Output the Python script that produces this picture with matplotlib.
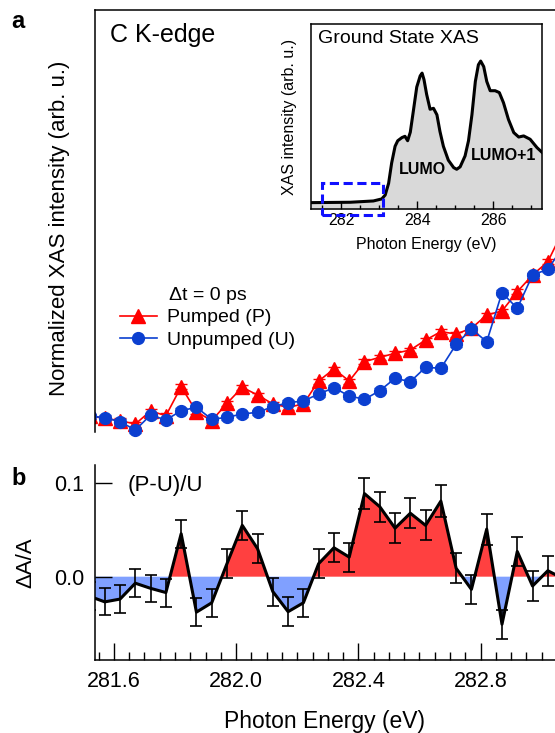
import matplotlib
matplotlib.use('Agg')
import matplotlib.pyplot as plt
from matplotlib.patches import Rectangle
from matplotlib.lines import Line2D
from matplotlib.ticker import MultipleLocator, FormatStrFormatter
import numpy as np

plt.rcParams['font.family'] = ['Liberation Sans', 'DejaVu Sans']

# photon energy grid (eV)
energy = [281.52, 281.57, 281.62, 281.67, 281.72, 281.77, 281.82, 281.87,
          281.92, 281.97, 282.02, 282.07, 282.12, 282.17, 282.22, 282.27,
          282.32, 282.37, 282.42, 282.47, 282.52, 282.57, 282.62, 282.67,
          282.72, 282.77, 282.82, 282.87, 282.92, 282.97, 283.02, 283.07]

# panel a: normalized XAS (arb. u.)
pumped = [0.16, 0.137, 0.113, 0.08, 0.21, 0.163, 0.453, 0.203,
          0.113, 0.287, 0.447, 0.37, 0.28, 0.247, 0.28, 0.51,
          0.63, 0.51, 0.703, 0.747, 0.787, 0.82, 0.92, 1.003,
          0.98, 1.037, 1.17, 1.21, 1.403, 1.57, 1.703, 2.015]
unpumped = [0.16, 0.143, 0.103, 0.02, 0.17, 0.12, 0.213, 0.247,
            0.127, 0.147, 0.18, 0.197, 0.253, 0.293, 0.31, 0.38,
            0.443, 0.36, 0.327, 0.413, 0.537, 0.503, 0.647, 0.637,
            0.877, 1.03, 0.903, 1.393, 1.237, 1.57, 1.627, 1.85]
xas_err = 0.025

# panel b: (P-U)/U
dAA = [-0.021, -0.027, -0.024, -0.007, -0.0125, -0.017, 0.046, -0.038,
       -0.028, 0.014, 0.055, 0.030, -0.016, -0.0375, -0.028, 0.014,
       0.031, 0.021, 0.089, 0.075, 0.052, 0.068, 0.055, 0.081,
       0.009, -0.0136, 0.051, -0.051, 0.027, -0.010, 0.0064, -0.002]
dAA_err = [0.015, 0.0146, 0.0146, 0.015, 0.0146, 0.015, 0.0152, 0.015,
           0.015, 0.0155, 0.0157, 0.0154, 0.015, 0.0155, 0.0152, 0.0154,
           0.0154, 0.0155, 0.0164, 0.016, 0.0164, 0.0163, 0.016, 0.017,
           0.016, 0.0154, 0.0166, 0.0155, 0.016, 0.0159, 0.016, 0.015]

# inset: ground state XAS
gs_energy = [281.21, 282.24, 282.85, 283.07, 283.16, 283.25, 283.33, 283.42,
             283.49, 283.6, 283.68, 283.75, 283.82, 283.9, 283.99, 284.08,
             284.13, 284.18, 284.25, 284.34, 284.43, 284.52, 284.6, 284.69,
             284.82, 284.96, 285.04, 285.13, 285.26, 285.35, 285.44, 285.53,
             285.61, 285.67, 285.75, 285.83, 285.92, 286.05, 286.16, 286.27,
             286.4, 286.54, 286.67, 286.8, 286.97, 287.15, 287.29]
gs_xas = [0.036, 0.038, 0.045, 0.056, 0.077, 0.14, 0.25, 0.34,
          0.37, 0.387, 0.394, 0.37, 0.416, 0.53, 0.66, 0.72,
          0.735, 0.70, 0.62, 0.54, 0.545, 0.51, 0.42, 0.34,
          0.265, 0.225, 0.216, 0.229, 0.288, 0.37, 0.51, 0.69,
          0.78, 0.80, 0.77, 0.69, 0.64, 0.64, 0.63, 0.575,
          0.485, 0.414, 0.39, 0.396, 0.378, 0.333, 0.306]

W, H = 555, 733
fig = plt.figure(figsize=(W / 100, H / 100), dpi=100)

red = '#ff0000'
blue = '#0b3fd0'
xmin, xmax = 281.538, 283.0435

# ---- panel a ----
ax1 = fig.add_axes([95 / W, (H - 447) / H, 460 / W, 437 / H])
ax1.errorbar(energy, pumped, yerr=xas_err, color=red, marker='^', ms=10,
             lw=1.2, capsize=4.5, elinewidth=1)
ax1.errorbar(energy, unpumped, yerr=xas_err, color=blue, marker='o', ms=8.5,
             lw=1.2, capsize=4.5, elinewidth=1)
ax1.set_xlim(xmin, xmax)
ax1.set_ylim(-0.15, 4.22)
ax1.spines['right'].set_visible(False)
ax1.spines['bottom'].set_visible(False)
ax1.spines['left'].set_bounds(0, 4.22)
for s in ['left', 'top']:
    ax1.spines[s].set_linewidth(1.1)
ax1.set_xticks([])
ax1.set_yticks([])
ax1.set_ylabel('Normalized XAS intensity (arb. u.)', fontsize=16)
ax1.yaxis.set_label_coords(-0.054, 0.5)
ax1.text(110 / W, 1 - 35 / H, 'C K-edge', transform=fig.transFigure,
         fontsize=18, va='center', ha='left')
fig.text(18 / W, 1 - 21 / H, 'a', fontsize=17, fontweight='bold',
         ha='center', va='center')
handles = [Line2D([], [], color=red, marker='^', ms=10, lw=1.2),
           Line2D([], [], color=blue, marker='o', ms=8.5, lw=1.2)]
ax1.legend(handles, ['Pumped (P)', 'Unpumped (U)'], loc='upper left',
           bbox_to_anchor=(120 / W, 1 - 287 / H),
           bbox_transform=fig.transFigure, frameon=False, fontsize=14,
           title='Δt = 0 ps', title_fontsize=14, handlelength=1.9,
           handletextpad=0.5, labelspacing=0.25, borderpad=0,
           borderaxespad=0)

# inset
axi = fig.add_axes([311 / W, 1 - 209.3 / H, 231.3 / W, 185.3 / H])
axi.fill_between(gs_energy, gs_xas, 0, color='#d9d9d9', lw=0)
axi.plot(gs_energy, gs_xas, color='black', lw=2.2)
axi.set_xlim(281.21, 287.29)
axi.set_ylim(0, 1)
axi.set_yticks([])
axi.xaxis.set_major_locator(MultipleLocator(2))
axi.xaxis.set_minor_locator(MultipleLocator(0.5))
axi.tick_params(axis='x', which='major', direction='in', length=6, width=1,
                labelsize=11.5, pad=3)
axi.tick_params(axis='x', which='minor', direction='in', length=3, width=1)
for s in axi.spines.values():
    s.set_linewidth(1.1)
axi.set_xlabel('Photon Energy (eV)', fontsize=11.5, labelpad=6)
axi.set_ylabel('XAS intensity (arb. u.)', fontsize=11.5, labelpad=10)
axi.text(0.03, 0.97, 'Ground State XAS', transform=axi.transAxes,
         fontsize=14, ha='left', va='top')
axi.text(284.13, 0.217, 'LUMO', fontsize=11.5, fontweight='bold',
         ha='center', va='center')
axi.text(286.27, 0.288, 'LUMO+1', fontsize=11.5, fontweight='bold',
         ha='center', va='center')
axi.add_patch(Rectangle((281.51, -0.031), 1.59, 0.1745, fill=False,
                        edgecolor='#1010ff', lw=2.2, ls=(0, (3, 1.5)),
                        clip_on=False, zorder=5))

# ---- panel b ----
ax2 = fig.add_axes([95 / W, (H - 660) / H, 460 / W, 195 / H])
e = np.array(energy)
d = np.array(dAA)
ax2.fill_between(e, d, 0, where=d >= 0, interpolate=True, color='#ff4040',
                 lw=0)
ax2.fill_between(e, d, 0, where=d <= 0, interpolate=True, color='#80a0ff',
                 lw=0)
ax2.errorbar(energy, dAA, yerr=dAA_err, color='black', lw=2.2,
             elinewidth=1.2, capsize=4.3, capthick=1.2)
ax2.set_xlim(xmin, xmax)
ax2.set_ylim(-0.0893, 0.1197)
ax2.spines['right'].set_visible(False)
ax2.spines['top'].set_visible(False)
for s in ['left', 'bottom']:
    ax2.spines[s].set_linewidth(1.1)
ax2.set_yticks([0.0, 0.1])
ax2.yaxis.set_major_formatter(FormatStrFormatter('%.1f'))
ax2.xaxis.set_major_locator(MultipleLocator(0.4))
ax2.xaxis.set_minor_locator(MultipleLocator(0.05))
ax2.xaxis.set_major_formatter(FormatStrFormatter('%.1f'))
ax2.tick_params(axis='both', which='major', direction='in', length=12,
                width=1, labelsize=15.5, pad=8)
ax2.tick_params(axis='x', which='minor', direction='in', length=6, width=1)
ax2.set_xlabel('Photon Energy (eV)', fontsize=16.5, labelpad=13)
ax2.set_ylabel('ΔA/A', fontsize=16)
ax2.yaxis.set_label_coords(-0.128, 0.5)
ax2.text(128 / W, 1 - 485 / H, '(P-U)/U', transform=fig.transFigure,
         fontsize=16, ha='left', va='center')
fig.text(18.5 / W, 1 - 478.5 / H, 'b', fontsize=17, fontweight='bold',
         ha='center', va='center')

fig.savefig('out.png', dpi=100)
